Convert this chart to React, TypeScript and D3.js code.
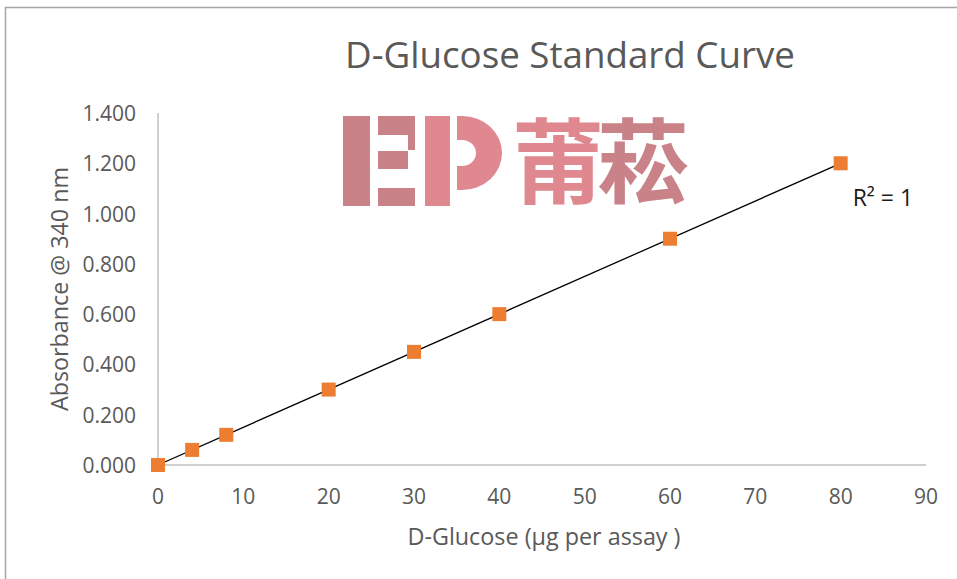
import React, { useMemo } from "react";
import * as d3 from "d3";

// standard curve readings
const glucose = [0, 4, 8, 20, 30, 40, 60, 80];
const absorbance = [0, 0.06, 0.12, 0.3, 0.45, 0.6, 0.9, 1.2];
const xTicks = [0, 10, 20, 30, 40, 50, 60, 70, 80, 90];
const yTicks = [0, 0.2, 0.4, 0.6, 0.8, 1.0, 1.2, 1.4];

const FONT = "'Open Sans', 'Noto Sans', sans-serif";
const GREY_TEXT = "#595959";

function App() {
  const width = 957;
  const height = 579;
  const MARGIN = { top: 113, right: 31, bottom: 114, left: 158 };
  const boundsWidth = width - MARGIN.left - MARGIN.right;
  const boundsHeight = height - MARGIN.top - MARGIN.bottom;

  const xScale = useMemo(
    () => d3.scaleLinear().domain([0, 90]).range([0, boundsWidth]),
    [boundsWidth]
  );
  const yScale = useMemo(
    () => d3.scaleLinear().domain([0, 1.4]).range([boundsHeight, 0]),
    [boundsHeight]
  );

  // least squares trendline
  const fit = useMemo(() => {
    const mx = d3.mean(glucose) ?? 0;
    const my = d3.mean(absorbance) ?? 0;
    const sxy = d3.sum(glucose, (x, i) => (x - mx) * (absorbance[i] - my));
    const sxx = d3.sum(glucose, (x) => (x - mx) ** 2);
    const slope = sxy / sxx;
    return { slope, intercept: my - slope * mx };
  }, []);

  const [x0, x1] = d3.extent(glucose) as [number, number];
  const trend = d3.line<number>()
    .x((d) => xScale(d))
    .y((d) => yScale(fit.intercept + fit.slope * d))([x0, x1]);

  const markerSize = 14;
  const points = glucose.map((x, i) => (
    <rect
      key={i}
      x={xScale(x) - markerSize / 2}
      y={yScale(absorbance[i]) - markerSize / 2}
      width={markerSize}
      height={markerSize}
      fill="#ED7D31"
    />
  ));

  const xLabels = xTicks.map((t) => (
    <text
      key={t}
      x={xScale(t)}
      y={boundsHeight + 39}
      textAnchor="middle"
      fontSize={21}
      fill={GREY_TEXT}
    >
      {t}
    </text>
  ));

  const yLabels = yTicks.map((t) => (
    <text
      key={t}
      x={-22}
      y={yScale(t)}
      textAnchor="end"
      dominantBaseline="central"
      fontSize={21}
      fill={GREY_TEXT}
    >
      {d3.format(".3f")(t)}
    </text>
  ));

  return (
    <svg
      width={width}
      height={height}
      style={{ position: "absolute", left: 0, top: 0, background: "#fff" }}
      fontFamily={FONT}
    >
      <path d="M5.5,579 V7.5 H957" fill="none" stroke="#a6a6a6" strokeWidth={1.5} />

      <text
        x={570}
        y={68}
        textAnchor="middle"
        fontSize={36}
        fill={GREY_TEXT}
        textLength={450}
        lengthAdjust="spacingAndGlyphs"
      >
        D-Glucose Standard Curve
      </text>

      <g transform={`translate(${[MARGIN.left, MARGIN.top].join(",")})`}>
        <line x1={0} x2={0} y1={0} y2={boundsHeight} stroke="#bfbfbf" strokeWidth={1.5} />
        <line x1={0} x2={boundsWidth} y1={boundsHeight} y2={boundsHeight} stroke="#bfbfbf" strokeWidth={1.5} />
        {xLabels}
        {yLabels}
        <path d={trend ?? ""} fill="none" stroke="#000" strokeWidth={1.3} />
        {points}
        <text x={xScale(80) + 12} y={yScale(1.2) + 43} fontSize={23} fill="#1a1a1a">
          R² = 1
        </text>
      </g>

      <text
        transform={`translate(68,${MARGIN.top + boundsHeight / 2}) rotate(-90)`}
        textAnchor="middle"
        fontSize={23}
        fill={GREY_TEXT}
        textLength={244}
        lengthAdjust="spacingAndGlyphs"
      >
        Absorbance @ 340 nm
      </text>
      <text
        x={544}
        y={545}
        textAnchor="middle"
        fontSize={23}
        fill={GREY_TEXT}
        textLength={273}
        lengthAdjust="spacingAndGlyphs"
      >
        D-Glucose (µg per assay )
      </text>

      {/* watermark logo */}
      <g>
        <rect x={343} y={116} width={27} height={90} fill="#c98287" />
        <rect x={378} y={116} width={37} height={19} fill="#c98287" />
        <rect x={408} y={135} width={7} height={15} fill="#c98287" />
        <rect x={378} y={151} width={30} height={18} fill="#c98287" />
        <rect x={378} y={188} width={37} height={18} fill="#c98287" />
        <rect x={425} y={116} width={25} height={90} fill="#e0888f" />
        <path
          d="M457,116 H462 A40,37 0 0 1 462,190 H457 V166 H462 A14,13 0 0 0 462,140 H457 Z"
          fill="#e0888f"
        />
        <text
          x={558}
          y={196}
          textAnchor="middle"
          fontSize={92}
          fontWeight={700}
          fontFamily="'Noto Sans CJK SC', sans-serif"
          fill="#e0888f"
        >
          莆
        </text>
        <text
          x={643}
          y={196}
          textAnchor="middle"
          fontSize={92}
          fontWeight={700}
          fontFamily="'Noto Sans CJK SC', sans-serif"
          fill="#c98287"
        >
          菘
        </text>
      </g>
    </svg>
  );
}

export default App;
